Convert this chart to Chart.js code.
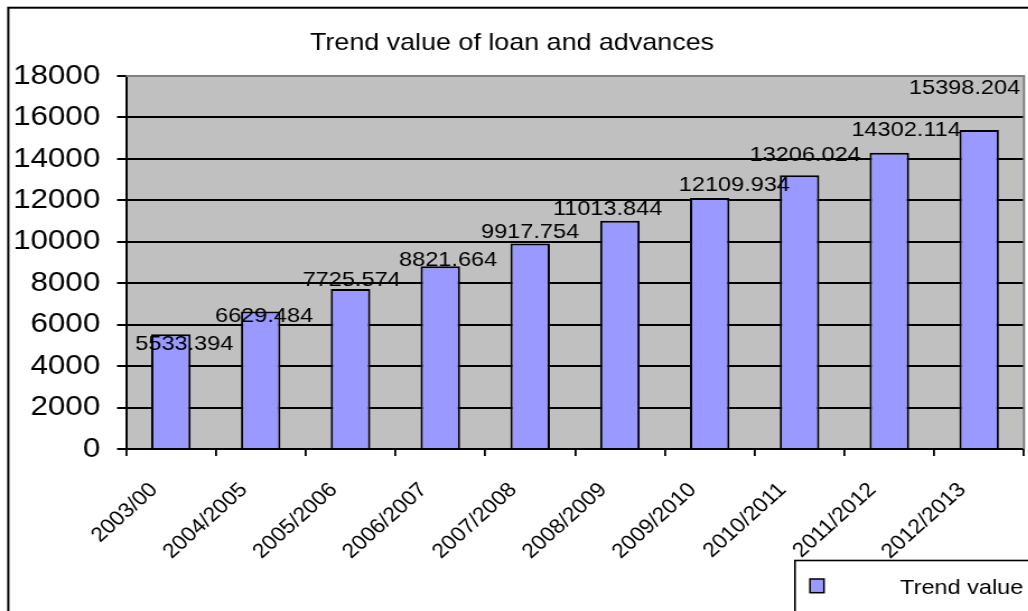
<!DOCTYPE html>
<html>
<head>
<meta charset="utf-8">
<title>Trend value of loan and advances</title>
<script src="https://cdn.jsdelivr.net/npm/chart.js@4.4.1/dist/chart.umd.min.js"></script>
<style>
  html, body { margin: 0; padding: 0; background: #fff; overflow: hidden; }
  /* chart is laid out narrower, then widened sideways like the exported sheet chart */
  #wrap { width: 918px; height: 611px; transform: scaleX(1.12); transform-origin: 0 0; }
</style>
</head>
<body>
<div id="wrap"><canvas id="myChart"></canvas></div>
<script>
// Years on the category axis
const years = ['2003/00', '2004/2005', '2005/2006', '2006/2007', '2007/2008',
               '2008/2009', '2009/2010', '2010/2011', '2011/2012', '2012/2013'];
// Trend value of loan and advances
const trendValues = [5533.394, 6629.484, 7725.574, 8821.664, 9917.754,
                     11013.844, 12109.934, 13206.024, 14302.114, 15398.204];
// Value axis ticks
const yTicks = [0, 2000, 4000, 6000, 8000, 10000, 12000, 14000, 16000, 18000];
// Hand-placed data labels: [dx, dy] from top centre of each bar
const labelShift = [[12, 8], [3, 3], [1, -10], [7, -8], [0, -13],
                    [-11, -13], [22, -15], [5, -22], [15, -24], [-13, -43]];

const FONT = "'Liberation Sans', Arial, sans-serif";
Chart.defaults.font.family = FONT;
Chart.defaults.color = '#000';

// Grey plot area, outer frame and legend box
const plotFrame = {
    id: 'plotFrame',
    beforeDraw(chart) {
        const { ctx, chartArea: a } = chart;
        ctx.save();
        ctx.strokeStyle = '#000';
        ctx.lineWidth = 2;
        ctx.strokeRect(7.4, 7.7, chart.width + 40, chart.height + 40);
        ctx.fillStyle = '#c0c0c0';
        ctx.fillRect(a.left, a.top, a.right - a.left, a.bottom - a.top);
        ctx.restore();
    },
    afterDraw(chart) {
        const { ctx, chartArea: a } = chart;
        ctx.save();
        // plot border (top and right)
        ctx.strokeStyle = '#808080';
        ctx.lineWidth = 2;
        ctx.beginPath();
        ctx.moveTo(a.left, a.top);
        ctx.lineTo(a.right, a.top);
        ctx.lineTo(a.right, a.bottom);
        ctx.stroke();

        // legend
        const ds = chart.data.datasets[0];
        ctx.strokeStyle = '#000';
        ctx.lineWidth = 1.6;
        ctx.fillStyle = '#fff';
        ctx.fillRect(709.8, 560.5, 300, 100);
        ctx.strokeRect(709.8, 560.5, 300, 100);
        ctx.fillStyle = ds.backgroundColor;
        ctx.fillRect(723.2, 579, 12.5, 13.7);
        ctx.lineWidth = 1.5;
        ctx.strokeRect(723.2, 579, 12.5, 13.7);
        ctx.fillStyle = '#000';
        ctx.font = '21px ' + FONT;
        ctx.textAlign = 'left';
        ctx.textBaseline = 'alphabetic';
        ctx.fillText(ds.label, 803.6, 594.2);
        ctx.restore();
    }
};

// Value labels above the bars
const valueLabels = {
    id: 'valueLabels',
    afterDatasetsDraw(chart) {
        const { ctx } = chart;
        const meta = chart.getDatasetMeta(0);
        const size = 21;
        ctx.save();
        ctx.font = size + 'px ' + FONT;
        ctx.fillStyle = '#000';
        ctx.textAlign = 'center';
        ctx.textBaseline = 'alphabetic';
        meta.data.forEach((bar, i) => {
            const [dx, dy] = labelShift[i];
            const text = trendValues[i].toFixed(3);
            ctx.fillText(text, bar.x + dx, bar.y + dy + size * 0.358);
        });
        ctx.restore();
    }
};

const ctx = document.getElementById('myChart').getContext('2d');
const myChart = new Chart(ctx, {
    type: 'bar',
    data: {
        labels: years,
        datasets: [{
            label: 'Trend value',
            data: trendValues,
            backgroundColor: '#9999ff',
            borderColor: '#000',
            borderWidth: 2,
            barPercentage: 0.44,
            categoryPercentage: 1
        }]
    },
    options: {
        responsive: true,
        maintainAspectRatio: false,
        animation: false,
        devicePixelRatio: 1,
        layout: { padding: { left: 0, right: 3.7, top: 0, bottom: 0 } },
        plugins: {
            legend: { display: false },
            tooltip: { enabled: false },
            title: {
                display: true,
                text: 'Trend value of loan and advances',
                color: '#000',
                font: { family: FONT, size: 24, weight: 'normal' },
                padding: { top: 29, bottom: 18.2 }
            }
        },
        scales: {
            x: {
                grid: {
                    offset: true,
                    drawOnChartArea: false,
                    drawTicks: true,
                    tickLength: 7,
                    color: '#000',
                    lineWidth: 1.8
                },
                border: { color: '#000', width: 2 },
                ticks: {
                    color: '#000',
                    font: { size: 20.5 },
                    minRotation: 45,
                    maxRotation: 45,
                    autoSkip: false,
                    padding: 22,
                    labelOffset: -15
                },
                afterFit(scale) { scale.height = 162; }
            },
            y: {
                min: 0,
                max: 18000,
                grid: { color: '#000', lineWidth: 2, tickLength: 8 },
                border: { color: '#000', width: 2 },
                ticks: {
                    color: '#000',
                    font: { size: 28 },
                    padding: 15,
                    callback: v => String(v)
                },
                afterBuildTicks(scale) {
                    scale.ticks = yTicks.map(v => ({ value: v }));
                },
                afterFit(scale) { scale.width = 112.5; }
            }
        }
    },
    plugins: [plotFrame, valueLabels]
});
</script>
</body>
</html>
